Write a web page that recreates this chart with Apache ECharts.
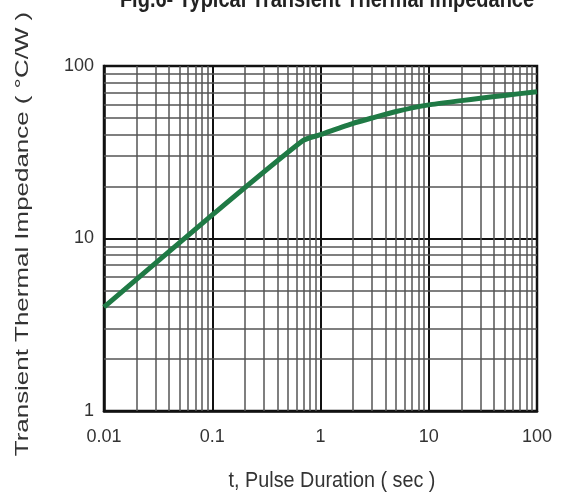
<!DOCTYPE html>
<html><head><meta charset="utf-8">
<script src="https://cdn.jsdelivr.net/npm/echarts@6/dist/echarts.min.js"></script>
<style>html,body{margin:0;padding:0;background:#fff}#c{width:565px;height:494px}</style>
</head><body><div id="c"></div>
<script>
const titleText = 'Fig.6- Typical Transient Thermal Impedance';
const xName = 't, Pulse Duration ( sec )';
const yName = 'Transient Thermal Impedance ( °C/W )';
const pulseDuration = [0.01, 0.1, 0.69, 1, 2, 3, 5, 10, 20, 30, 50, 100];
const impedance = [4.0, 13.7, 37.0, 40.0, 46.5, 50.0, 54.5, 59.5, 63, 65, 67.5, 71];
const xTickLabels = ['0.01', '0.1', '1', '10', '100'];
const yTickLabels = ['1', '10', '100'];
const xDecades = [0.01, 0.1, 1, 10];
const yDecades = [1, 10];
const minorSteps = [2, 3, 4, 5, 6, 7, 8, 9];

const xMinor = [];
xDecades.forEach(d => minorSteps.forEach(m => xMinor.push(+(d * m).toPrecision(3))));
const yMinor = [];
yDecades.forEach(d => minorSteps.forEach(m => yMinor.push(+(d * m).toPrecision(3))));

function fmt(v, list) {
  for (const s of list) if (Math.abs(parseFloat(s) - v) / v < 1e-6) return s;
  return '';
}

const chart = echarts.init(document.getElementById('c'), null, {renderer: 'canvas'});
chart.setOption({
  animation: false,
  backgroundColor: '#fff',
  graphic: [
    {type: 'text', x: 327, y: 12, scaleX: 1.0, scaleY: 1.2, silent: true,
     style: {text: titleText, font: 'bold 20px "Liberation Sans"', fill: '#222', align: 'center', verticalAlign: 'bottom'}},
    {type: 'text', x: 332, y: 481, scaleX: 1.1, scaleY: 1.2, silent: true,
     style: {text: xName, font: '18px "Liberation Sans"', fill: '#333', align: 'center', verticalAlign: 'middle'}},
    {type: 'text', x: 23, y: 234, rotation: Math.PI / 2, scaleX: 1.44, scaleY: 1.05, silent: true,
     style: {text: yName, font: '18px "Liberation Sans"', fill: '#333', align: 'center', verticalAlign: 'middle'}}
  ],
  grid: {left: 104, right: 28, top: 66, bottom: 83, show: true, borderColor: '#111', borderWidth: 2.5, backgroundColor: 'transparent'},
  xAxis: {
    type: 'log', logBase: 10, min: 0.01, max: 100,
    axisLine: {show: true, lineStyle: {color: '#111', width: 2.5}},
    axisTick: {show: false},
    axisLabel: {fontFamily: 'Liberation Sans', fontSize: 18, color: '#333', margin: 17,
      formatter: v => fmt(v, xTickLabels)},
    splitLine: {show: true, lineStyle: {color: '#111', width: 2}}
  },
  yAxis: {
    type: 'log', logBase: 10, min: 1, max: 100,
    axisLine: {show: true, lineStyle: {color: '#111', width: 2.5}},
    axisTick: {show: false},
    axisLabel: {fontFamily: 'Liberation Sans', fontSize: 18, color: '#333', margin: 10,
      formatter: v => fmt(v, yTickLabels)},
    splitLine: {show: true, lineStyle: {color: '#111', width: 2}}
  },
  series: [
    {
      type: 'line', data: [], silent: true, z: 1,
      markLine: {
        silent: true, symbol: ['none', 'none'], animation: false,
        label: {show: false},
        lineStyle: {color: '#555', width: 1.5, type: 'solid'},
        emphasis: {disabled: true},
        data: xMinor.map(v => ({xAxis: v})).concat(yMinor.map(v => ({yAxis: v})))
      }
    },
    {
      type: 'line', z: 5,
      data: pulseDuration.map((x, i) => [x, impedance[i]]),
      showSymbol: false, smooth: 0.2,
      lineStyle: {color: '#1f7a45', width: 5}
    }
  ]
});
</script></body></html>
